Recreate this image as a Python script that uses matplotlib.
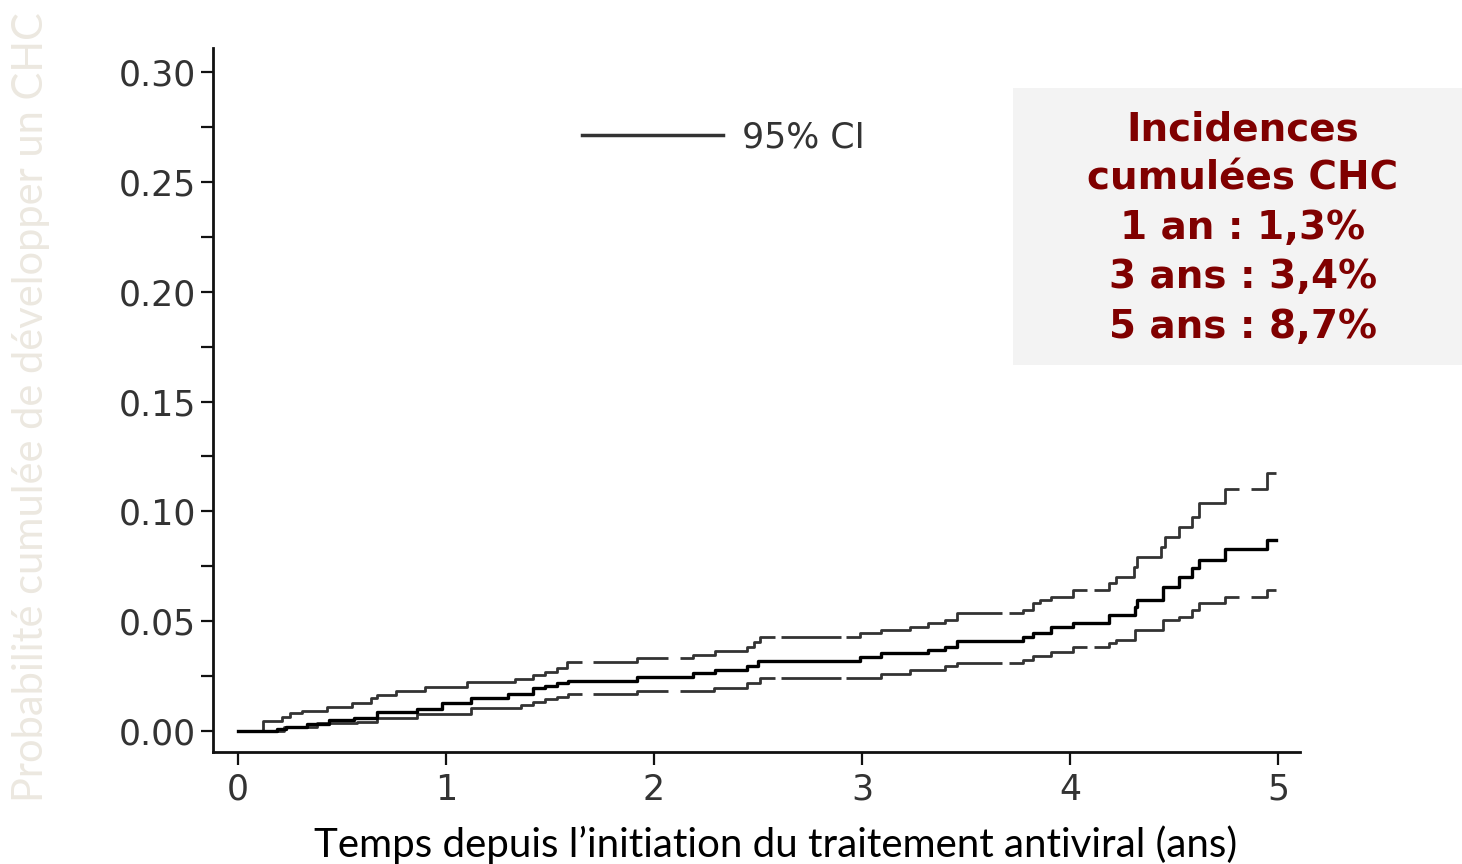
import matplotlib
matplotlib.use("Agg")
import matplotlib.pyplot as plt
import numpy as np
from matplotlib.lines import Line2D
from matplotlib.patches import Rectangle

# Courbe d'incidence cumulée (estimation) et IC 95%
t_mid = [0, 0.19, 0.23, 0.33, 0.44, 0.56, 0.67, 0.86, 0.98, 1.12, 1.30, 1.42, 1.476,
         1.532, 1.588, 1.917, 2.189, 2.293, 2.446, 2.502, 2.992, 3.092, 3.316, 3.40,
         3.458, 3.774, 3.824, 3.907, 4.015, 4.19, 4.314, 4.323, 4.448, 4.523, 4.589,
         4.622, 4.747, 4.947]
y_mid = [0, 0.001, 0.002, 0.003, 0.005, 0.006, 0.0085, 0.010, 0.0125, 0.015, 0.017,
         0.0196, 0.0205, 0.0218, 0.0228, 0.0246, 0.0264, 0.0278, 0.0296, 0.0319, 0.0338,
         0.0354, 0.0369, 0.0384, 0.0411, 0.0426, 0.0445, 0.0475, 0.049, 0.0528, 0.0566,
         0.0596, 0.0657, 0.0702, 0.0741, 0.0778, 0.0827, 0.0869]

t_up = [0, 0.12, 0.21, 0.25, 0.31, 0.43, 0.55, 0.64, 0.67, 0.76, 0.90, 1.10, 1.33, 1.42,
        1.476, 1.532, 1.58, 1.917, 2.189, 2.293, 2.446, 2.48, 2.51, 2.992, 3.092, 3.233,
        3.316, 3.40, 3.458, 3.774, 3.824, 3.857, 3.907, 4.015, 4.19, 4.223, 4.306, 4.323,
        4.439, 4.456, 4.523, 4.589, 4.622, 4.747, 4.947]
y_up = [0, 0.0046, 0.0065, 0.008, 0.0092, 0.0108, 0.0126, 0.0149, 0.0164, 0.0182, 0.0199,
        0.0224, 0.0238, 0.0255, 0.0269, 0.0287, 0.0314, 0.0332, 0.0346, 0.0364, 0.0382,
        0.0405, 0.0428, 0.0445, 0.046, 0.0475, 0.049, 0.0505, 0.0536, 0.0551, 0.0581,
        0.0596, 0.0611, 0.0642, 0.0672, 0.0702, 0.0748, 0.0793, 0.0839, 0.0884, 0.093,
        0.0975, 0.1039, 0.110, 0.1176]

t_low = [0, 0.22, 0.38, 0.57, 0.67, 0.86, 1.12, 1.36, 1.42, 1.476, 1.532, 1.588, 1.917,
         2.29, 2.446, 2.51, 3.092, 3.233, 3.40, 3.458, 3.774, 3.824, 3.907, 4.015, 4.19,
         4.223, 4.314, 4.448, 4.523, 4.589, 4.622, 4.747, 4.947]
y_low = [0, 0.002, 0.0035, 0.0042, 0.0058, 0.0077, 0.0103, 0.0118, 0.0132, 0.0146, 0.0155,
         0.0168, 0.0182, 0.0196, 0.0218, 0.0241, 0.0259, 0.0278, 0.0296, 0.0308, 0.0323,
         0.0341, 0.0361, 0.0381, 0.0399, 0.0414, 0.046, 0.0505, 0.052, 0.0551, 0.0581,
         0.0611, 0.0642]

t_end = 4.99
# interruptions visibles dans les courbes de l'IC
ci_gaps = [(1.652, 1.708), (2.069, 2.125), (2.58, 2.61), (2.90, 2.925),
           (3.673, 3.707), (4.082, 4.115), (4.813, 4.87)]

box_lines = ["Incidences", "cumulées CHC", "1 an : 1,3%", "3 ans : 3,4%", "5 ans : 8,7%"]

ci_color = '#333333'


def draw_ci(ax, t, y, gaps):
    t = np.asarray(t)
    y = np.asarray(y)
    edges = [0.0] + [g for gap in gaps for g in gap] + [t_end]
    for a, b in zip(edges[0::2], edges[1::2]):
        i0 = np.searchsorted(t, a, side='right') - 1
        inside = (t > a) & (t < b)
        seg_t = np.concatenate([[a], t[inside], [b]])
        seg_y = np.concatenate([[y[i0]], y[inside]])
        seg_y = np.append(seg_y, seg_y[-1])
        ax.step(seg_t, seg_y, where='post', color=ci_color, lw=2.0, solid_capstyle='butt')


fig = plt.figure(figsize=(14.62, 8.64), dpi=100)
ax = fig.add_axes([213 / 1462, 1 - 752 / 864, 1087 / 1462, 704 / 864])

draw_ci(ax, t_up, y_up, ci_gaps)
draw_ci(ax, t_low, y_low, ci_gaps)
ax.step(t_mid + [t_end], y_mid + [y_mid[-1]], where='post', color='black', lw=2.4)

ax.set_xlim(-0.12, 5.106)
ax.set_ylim(-0.0096, 0.311)
ax.set_xticks(range(6))
ax.set_yticks(np.arange(0, 0.31, 0.05))
ax.set_yticks(np.arange(0.025, 0.3, 0.05), minor=True)
ax.yaxis.set_major_formatter(matplotlib.ticker.FormatStrFormatter('%.2f'))
for s in ['top', 'right']:
    ax.spines[s].set_visible(False)
for s in ['left', 'bottom']:
    ax.spines[s].set_linewidth(2)
    ax.spines[s].set_color('#111111')
ax.tick_params(axis='both', which='both', direction='out', length=9, width=1.6,
               color='#111111', labelsize=25, labelcolor='#333333')
ax.tick_params(axis='y', pad=3)
ax.tick_params(axis='x', pad=6)

# légende "95% CI"
leg = ax.legend(handles=[Line2D([], [], color=ci_color, lw=2.5)], labels=['95% CI'],
                loc='center left', bbox_to_anchor=(582 / 1462, 1 - 137 / 864),
                bbox_transform=fig.transFigure, frameon=False, fontsize=25,
                handlelength=4.05, handletextpad=0.55, borderpad=0, borderaxespad=0)
for txt in leg.get_texts():
    txt.set_color('#333333')

fig.text(776 / 1462, 1 - 845 / 864, "Temps depuis l\u2019initiation du traitement antiviral (ans)",
         ha='center', va='center', fontsize=29, family='Lato', color='black')
fig.text(31 / 1462, 1 - 407 / 864, "Probabilité cumulée de développer un CHC",
         ha='center', va='center', rotation=90, fontsize=30, family='Lato',
         color='#ece8e0')

fig.patches.append(Rectangle((1013 / 1462, 1 - 365 / 864), 449 / 1462, 277 / 864,
                             transform=fig.transFigure, facecolor='#f3f3f3',
                             edgecolor='none', zorder=0))
fig.text(1243 / 1462, 1 - 228 / 864, "\n".join(box_lines), ha='center', va='center',
         fontsize=28, family='DejaVu Sans', fontweight='bold', color='#800000',
         linespacing=1.38)

fig.savefig('out.png', dpi=100)
